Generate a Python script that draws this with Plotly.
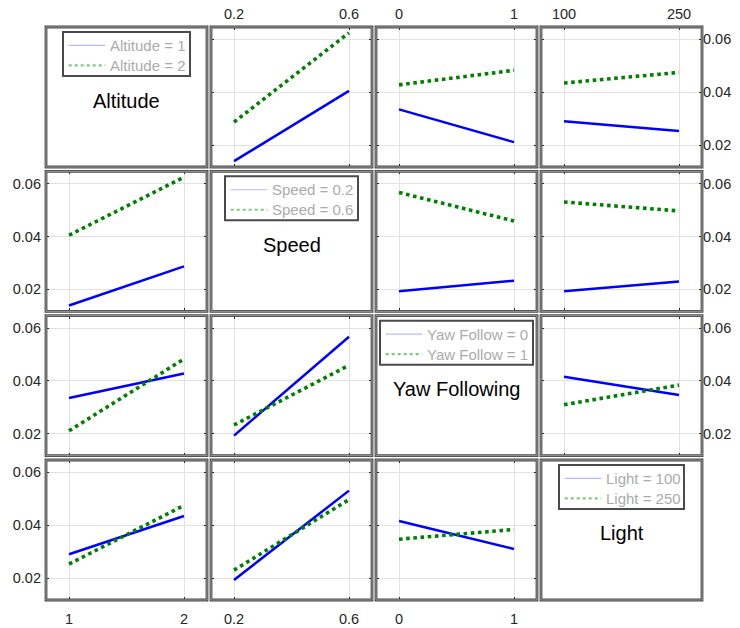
import plotly.graph_objects as go

# Factors of the experiment and their two levels
factors = ["Altitude", "Speed", "Yaw Following", "Light"]
legend_names = ["Altitude", "Speed", "Yaw Follow", "Light"]
altitude_levels = [1, 2]
speed_levels = [0.2, 0.6]
yaw_levels = [0, 1]
light_levels = [100, 250]
levels = [altitude_levels, speed_levels, yaw_levels, light_levels]

# Cell means of the response for each pair of factors
# (rows: levels of the first factor, columns: levels of the second factor)
altitude_speed = [[0.0139, 0.0405], [0.0287, 0.0625]]
altitude_yaw = [[0.0335, 0.0211], [0.0428, 0.0483]]
altitude_light = [[0.0290, 0.0253], [0.0435, 0.0475]]
speed_yaw = [[0.0193, 0.0233], [0.0567, 0.0459]]
speed_light = [[0.0193, 0.0230], [0.0531, 0.0497]]
yaw_light = [[0.0416, 0.0347], [0.0310, 0.0384]]

pair_means = {
    (0, 1): altitude_speed, (0, 2): altitude_yaw, (0, 3): altitude_light,
    (1, 2): speed_yaw, (1, 3): speed_light, (2, 3): yaw_light,
}

y_range = [0.0117, 0.0647]
y_ticks = [0.02, 0.04, 0.06]


def cell_means(i, j):
    if (i, j) in pair_means:
        return pair_means[(i, j)]
    t = pair_means[(j, i)]
    return [[t[b][a] for b in range(2)] for a in range(2)]


W, H = 740, 628
M_L, M_R, M_T, M_B = 46, 38, 27, 28
PW, PH = W - M_L - M_R, H - M_T - M_B
COL_PITCH, COL_W = 165.0, 161.0
ROW_PITCH, ROW_H = 144.33, 140.0

FONT = "Liberation Sans, Arial, Helvetica, sans-serif"
TICK_FONT = dict(family=FONT, size=14.5, color="#262626")
LINE_STYLES = [
    dict(color="#0000ff", width=2.5),
    dict(color="#008000", width=3.6, dash="dot"),
]
KEY_STYLES = [
    dict(color="#b8b8ff", width=1.2),
    dict(color="#80c880", width=2.2, dash="dot"),
]
KEY_BOX_W = [127, 133, 153, 125]   # legend box widths (px)
KEY_BOX_H = 44


def col_domain(c):
    x0 = COL_PITCH * c
    return [x0 / PW, min(1.0, (x0 + COL_W) / PW)]


def row_domain(r):
    top = ROW_PITCH * r
    return [max(0.0, 1 - (top + ROW_H) / PH), 1 - top / PH]


def px_x(px):
    return px / PW


def px_y(py):
    return 1 - py / PH


fig = go.Figure()
layout = {}
shapes = []
annotations = []

for r in range(4):
    for c in range(4):
        xd, yd = col_domain(c), row_domain(r)

        # panel frame: dark double rule
        for color, width in (("#484848", 2.8), ("#a4a4a4", 0.9)):
            shapes.append(dict(type="rect", xref="paper", yref="paper",
                               x0=xd[0], x1=xd[1], y0=yd[0], y1=yd[1], layer="above",
                               line=dict(color=color, width=width)))

        if r == c:
            annotations.append(dict(text=factors[r], xref="paper", yref="paper",
                                    x=(xd[0] + xd[1]) / 2, y=yd[0] + 0.475 * (yd[1] - yd[0]),
                                    xanchor="center", yanchor="middle", showarrow=False,
                                    font=dict(family=FONT, size=20, color="#000000")))
            # key box for this factor, centred near the top of the panel
            cx = COL_PITCH * c + COL_W / 2
            bw = KEY_BOX_W[r]
            bx0, bx1 = cx - bw / 2, cx + bw / 2
            by0 = ROW_PITCH * r + 5
            by1 = by0 + KEY_BOX_H
            shapes.append(dict(type="rect", xref="paper", yref="paper",
                               x0=px_x(bx0), x1=px_x(bx1), y0=px_y(by1), y1=px_y(by0),
                               fillcolor="#ffffff", layer="above",
                               line=dict(color="#4a4a4a", width=2)))
            for k in range(2):
                yy = by0 + 13.4 + 20 * k
                shapes.append(dict(type="line", xref="paper", yref="paper",
                                   x0=px_x(bx0 + 5.7), x1=px_x(bx0 + 42.3),
                                   y0=px_y(yy), y1=px_y(yy), layer="above",
                                   line=KEY_STYLES[k]))
                annotations.append(dict(text=f"{legend_names[r]} = {levels[r][k]}",
                                        xref="paper", yref="paper",
                                        x=px_x(bx0 + 44.5), y=px_y(yy),
                                        xanchor="left", yanchor="middle", showarrow=False,
                                        font=dict(family=FONT, size=15, color="#ababab")))
            continue

        n = r * 4 + c + 1
        sfx = "" if n == 1 else str(n)
        xa, ya = f"x{sfx}", f"y{sfx}"
        xr = levels[c]
        span = xr[1] - xr[0]
        common = dict(
            showgrid=True, gridcolor="#e2e2e2", gridwidth=1,
            zeroline=False, showline=False, mirror="ticks",
            ticks="inside", ticklen=3, tickwidth=1, tickcolor="#262626",
            showticklabels=False, tickfont=TICK_FONT, fixedrange=True,
            automargin=False,
        )
        xaxis = dict(domain=xd, anchor=ya,
                     range=[xr[0] - 0.2 * span, xr[1] + 0.2 * span],
                     tickvals=xr, ticktext=[str(v) for v in xr], **common)
        yaxis = dict(domain=yd, anchor=xa, range=y_range,
                     tickvals=y_ticks, ticktext=[f"{v:.2f}" for v in y_ticks], **common)
        if r == 0:
            xaxis.update(side="top", showticklabels=True, ticklabelstandoff=4)
        elif r == 3:
            xaxis.update(side="bottom", showticklabels=True, ticklabelstandoff=9)
        if c == 0:
            yaxis.update(side="left", showticklabels=True, ticklabelstandoff=4)
        elif c == 3:
            yaxis.update(side="right", showticklabels=True, ticklabelstandoff=0)
        layout[f"xaxis{sfx}"] = xaxis
        layout[f"yaxis{sfx}"] = yaxis

        means = cell_means(r, c)
        for k in range(2):
            fig.add_trace(go.Scatter(
                x=xr, y=means[k], mode="lines", xaxis=xa, yaxis=ya,
                line=LINE_STYLES[k], showlegend=False,
                name=f"{legend_names[r]} = {levels[r][k]}",
            ))

fig.update_layout(
    width=W, height=H, autosize=False,
    margin=dict(l=M_L, r=M_R, t=M_T, b=M_B, pad=0, autoexpand=False),
    paper_bgcolor="#ffffff", plot_bgcolor="#ffffff",
    shapes=shapes, annotations=annotations,
    font=dict(family=FONT), showlegend=False,
    **layout,
)

fig.write_html("out.html")
